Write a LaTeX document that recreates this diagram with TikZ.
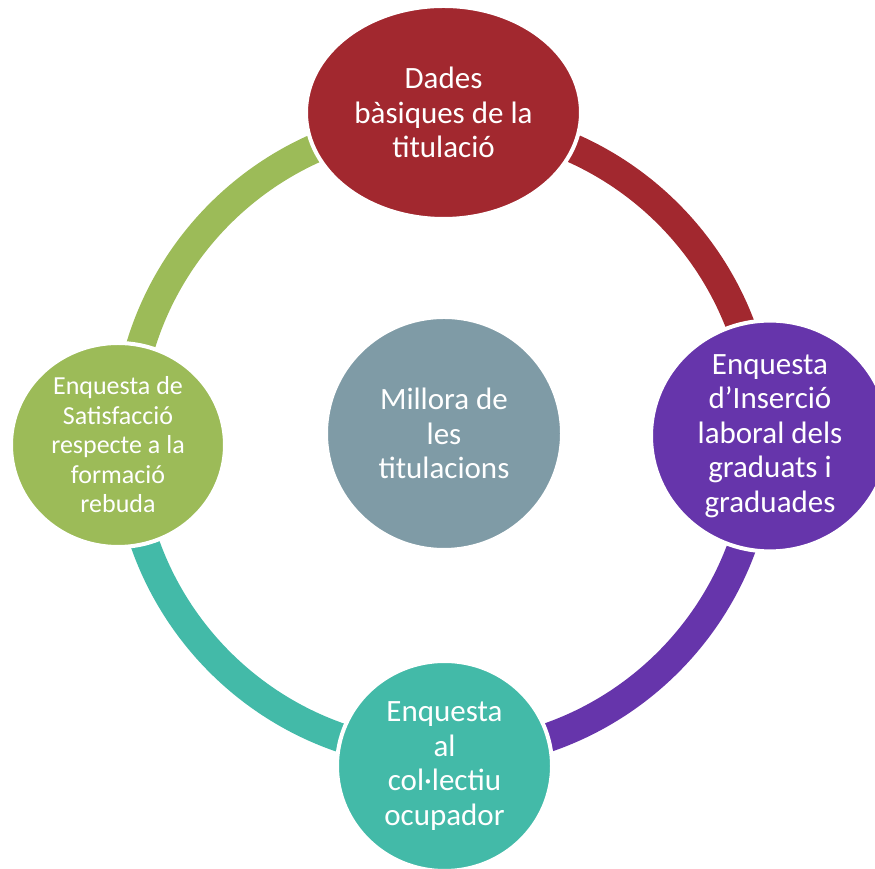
\documentclass[tikz,border=0pt]{standalone}
\usepackage{fontspec}
\setmainfont{Carlito}
\usetikzlibrary{shapes.geometric}
\definecolor{cred}{HTML}{A2282F}
\definecolor{cpurple}{HTML}{6635AB}
\definecolor{cteal}{HTML}{43BAA8}
\definecolor{cgreen}{HTML}{9CBB58}
\definecolor{cgray}{HTML}{7F9BA6}
\tikzset{
  item/.style={ellipse, draw=white, line width=4pt, inner sep=0pt, align=center,
    text=white, font=\fontsize{31}{34.5}\selectfont},
  smalltext/.style={font=\fontsize{26}{29.5}\selectfont},
  ring/.style={line width=29pt, line cap=butt}
}
\begin{document}
\begin{tikzpicture}[x=1pt,y=1pt]
\useasboundingbox (0,0) rectangle (875,869);
\coordinate (O) at (444,431);
% ring segments
\draw[ring, cred]    ([shift={(90:317)}]O)  arc[start angle=90,  end angle=0,   radius=317];
\draw[ring, cpurple] ([shift={(0:317)}]O)   arc[start angle=0,   end angle=-90, radius=317];
\draw[ring, cteal]   ([shift={(-90:317)}]O) arc[start angle=-90, end angle=-180,radius=317];
\draw[ring, cgreen]  ([shift={(180:317)}]O) arc[start angle=180, end angle=90,  radius=317];
% nodes
\node[item, fill=cgray, minimum width=236pt, minimum height=233pt] (c) at (444,435.5)
  {Millora de\\les\\titulacions};
\node[item, fill=cred, minimum width=275pt, minimum height=213pt] (t) at (443.5,756.5)
  {Dades\\bàsiques de la\\titulació};
\node[item, fill=cpurple, minimum width=238pt, minimum height=206pt] (r) at (770,433)
  {Enquesta\\d’Inserció\\laboral dels\\graduats i\\graduades};
\node[item, fill=cteal, minimum width=215pt, minimum height=210pt] (b) at (444.5,103)
  {Enquesta\\al\\col·lectiu\\ocupador};
\node[item, smalltext, fill=cgreen, minimum width=214pt, minimum height=204pt] (l) at (118,424)
  {Enquesta de\\Satisfacció\\respecte a la\\formació\\rebuda};
\end{tikzpicture}
\end{document}
